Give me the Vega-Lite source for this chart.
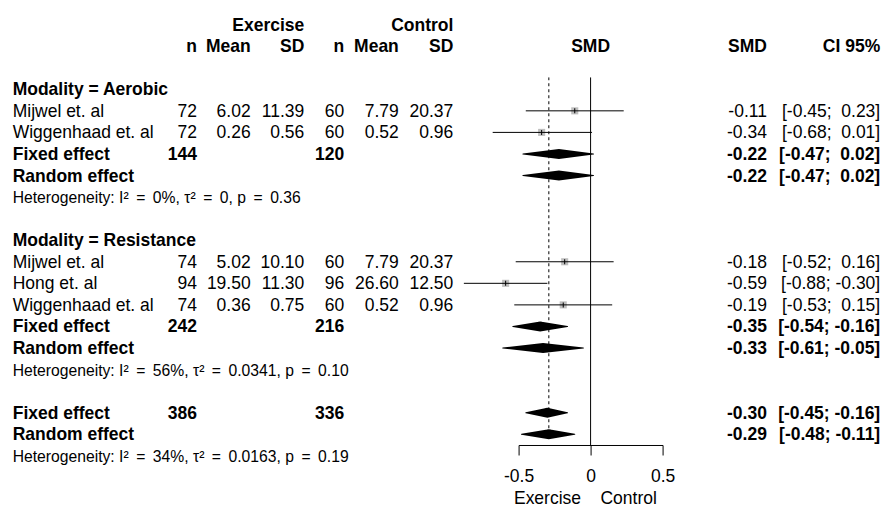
{
  "$schema": "https://vega.github.io/schema/vega-lite/v6.json",
  "padding": {"left": 12.7, "top": 0, "right": 0, "bottom": 0},
  "spacing": 39.3,
  "bounds": "flush",
  "config": {
    "view": {"stroke": null},
    "font": "Liberation Sans",
    "locale": {"number": {"decimal": ".", "thousands": ",", "grouping": [3], "currency": ["$", ""], "minus": "-"}},
    "text": {"font": "Liberation Sans", "fontSize": 17.5, "color": "black", "baseline": "middle", "dy": 1}
  },
  "datasets": {
    "rows": [
      {"row": 3, "kind": "group", "label": "Modality = Aerobic"},
      {"row": 4, "kind": "study", "label": "Mijwel et. al", "e_n": 72, "e_mean": 6.02, "e_sd": 11.39, "c_n": 60, "c_mean": 7.79, "c_sd": 20.37, "smd": -0.11, "lo": -0.45, "hi": 0.23, "ci": "[-0.45;\u00a0\u00a00.23]"},
      {"row": 5, "kind": "study", "label": "Wiggenhaad et. al", "e_n": 72, "e_mean": 0.26, "e_sd": 0.56, "c_n": 60, "c_mean": 0.52, "c_sd": 0.96, "smd": -0.34, "lo": -0.68, "hi": 0.01, "ci": "[-0.68;\u00a0\u00a00.01]"},
      {"row": 6, "kind": "fixed", "label": "Fixed effect", "e_n": 144, "c_n": 120, "smd": -0.22, "lo": -0.47, "hi": 0.02, "ci": "[-0.47;\u00a0\u00a00.02]"},
      {"row": 7, "kind": "random", "label": "Random effect", "smd": -0.22, "lo": -0.47, "hi": 0.02, "ci": "[-0.47;\u00a0\u00a00.02]"},
      {"row": 8, "kind": "het", "label": "Heterogeneity: I\u00b2\u00a0\u2009=\u2009\u00a00%, \u03c4\u00b2\u00a0\u2009=\u2009\u00a00, p\u00a0\u2009=\u2009\u00a00.36"},
      {"row": 10, "kind": "group", "label": "Modality = Resistance"},
      {"row": 11, "kind": "study", "label": "Mijwel et. al", "e_n": 74, "e_mean": 5.02, "e_sd": 10.10, "c_n": 60, "c_mean": 7.79, "c_sd": 20.37, "smd": -0.18, "lo": -0.52, "hi": 0.16, "ci": "[-0.52;\u00a0\u00a00.16]"},
      {"row": 12, "kind": "study", "label": "Hong et. al", "e_n": 94, "e_mean": 19.50, "e_sd": 11.30, "c_n": 96, "c_mean": 26.60, "c_sd": 12.50, "smd": -0.59, "lo": -0.88, "hi": -0.30, "ci": "[-0.88; -0.30]"},
      {"row": 13, "kind": "study", "label": "Wiggenhaad et. al", "e_n": 74, "e_mean": 0.36, "e_sd": 0.75, "c_n": 60, "c_mean": 0.52, "c_sd": 0.96, "smd": -0.19, "lo": -0.53, "hi": 0.15, "ci": "[-0.53;\u00a0\u00a00.15]"},
      {"row": 14, "kind": "fixed", "label": "Fixed effect", "e_n": 242, "c_n": 216, "smd": -0.35, "lo": -0.54, "hi": -0.16, "ci": "[-0.54; -0.16]"},
      {"row": 15, "kind": "random", "label": "Random effect", "smd": -0.33, "lo": -0.61, "hi": -0.05, "ci": "[-0.61; -0.05]"},
      {"row": 16, "kind": "het", "label": "Heterogeneity: I\u00b2\u00a0\u2009=\u2009\u00a056%, \u03c4\u00b2\u00a0\u2009=\u2009\u00a00.0341, p\u00a0\u2009=\u2009\u00a00.10"},
      {"row": 18, "kind": "fixed", "label": "Fixed effect", "e_n": 386, "c_n": 336, "smd": -0.30, "lo": -0.45, "hi": -0.16, "ci": "[-0.45; -0.16]"},
      {"row": 19, "kind": "random", "label": "Random effect", "smd": -0.29, "lo": -0.48, "hi": -0.11, "ci": "[-0.48; -0.11]"},
      {"row": 20, "kind": "het", "label": "Heterogeneity: I\u00b2\u00a0\u2009=\u2009\u00a034%, \u03c4\u00b2\u00a0\u2009=\u2009\u00a00.0163, p\u00a0\u2009=\u2009\u00a00.19"}
    ],
    "headers": [
      {"panel": "ex", "col": "e_sd", "row": 0, "text": "Exercise"},
      {"panel": "ex", "col": "e_n", "row": 1, "text": "n"},
      {"panel": "ex", "col": "e_mean", "row": 1, "text": "Mean"},
      {"panel": "ex", "col": "e_sd", "row": 1, "text": "SD"},
      {"panel": "ct", "col": "c_sd", "row": 0, "text": "Control"},
      {"panel": "ct", "col": "c_n", "row": 1, "text": "n"},
      {"panel": "ct", "col": "c_mean", "row": 1, "text": "Mean"},
      {"panel": "ct", "col": "c_sd", "row": 1, "text": "SD"},
      {"panel": "forest", "col": "smd", "row": 1, "text": "SMD"},
      {"panel": "right", "col": "smd", "row": 1, "text": "SMD"},
      {"panel": "right", "col": "ci", "row": 1, "text": "CI 95%"}
    ]
  },
  "resolve": {"scale": {"x": "independent", "y": "independent"}},
  "hconcat": [
    {
      "width": 145, "height": 445,
      "data": {"name": "rows"},
      "encoding": {
        "x": {"datum": 0, "type": "quantitative", "scale": {"domain": [0, 1]}, "axis": null},
        "y": {"field": "row", "type": "quantitative", "scale": {"domain": [-1.141, 19.499], "reverse": true, "nice": false, "zero": false}, "axis": null},
        "text": {"field": "label", "type": "nominal"}
      },
      "layer": [
        {"transform": [{"filter": "datum.kind === 'study'"}], "mark": {"type": "text", "align": "left"}},
        {"transform": [{"filter": "datum.kind === 'group' || datum.kind === 'fixed' || datum.kind === 'random'"}], "mark": {"type": "text", "align": "left", "fontWeight": "bold"}},
        {"transform": [{"filter": "datum.kind === 'het'"}], "mark": {"type": "text", "align": "left", "fontSize": 15.7}}
      ]
    },
    {
      "width": 107.3, "height": 445,
      "encoding": {
        "x": {"field": "col", "type": "nominal", "scale": {"type": "point", "domain": ["e_n", "e_mean", "e_sd"], "padding": 0}, "axis": null},
        "y": {"field": "row", "type": "quantitative", "scale": {"domain": [-1.141, 19.499], "reverse": true, "nice": false, "zero": false}, "axis": null}
      },
      "layer": [
        {"data": {"name": "rows"}, "transform": [{"filter": "datum.kind === 'study'"}, {"fold": ["e_n"], "as": ["col", "val"]}],
         "mark": {"type": "text", "align": "right"}, "encoding": {"text": {"field": "val", "type": "quantitative", "format": "d"}}},
        {"data": {"name": "rows"}, "transform": [{"filter": "datum.kind === 'study'"}, {"fold": ["e_mean", "e_sd"], "as": ["col", "val"]}],
         "mark": {"type": "text", "align": "right"}, "encoding": {"text": {"field": "val", "type": "quantitative", "format": ".2f"}}},
        {"data": {"name": "rows"}, "transform": [{"filter": "datum.kind === 'fixed'"}, {"fold": ["e_n"], "as": ["col", "val"]}],
         "mark": {"type": "text", "align": "right", "fontWeight": "bold"}, "encoding": {"text": {"field": "val", "type": "quantitative", "format": "d"}}},
        {"data": {"name": "headers"}, "transform": [{"filter": "datum.panel === 'ex'"}],
         "mark": {"type": "text", "align": "right", "fontWeight": "bold"}, "encoding": {"text": {"field": "text", "type": "nominal"}}}
      ]
    },
    {
      "width": 134.1, "height": 445,
      "encoding": {
        "x": {"field": "col", "type": "nominal", "scale": {"type": "point", "domain": ["c_n", "c_mean", "c_sd"], "padding": 0.23, "align": 0}, "axis": null},
        "y": {"field": "row", "type": "quantitative", "scale": {"domain": [-1.141, 19.499], "reverse": true, "nice": false, "zero": false}, "axis": null}
      },
      "layer": [
        {"data": {"name": "rows"}, "transform": [{"filter": "datum.kind === 'study'"}, {"fold": ["c_n"], "as": ["col", "val"]}],
         "mark": {"type": "text", "align": "right"}, "encoding": {"text": {"field": "val", "type": "quantitative", "format": "d"}}},
        {"data": {"name": "rows"}, "transform": [{"filter": "datum.kind === 'study'"}, {"fold": ["c_mean", "c_sd"], "as": ["col", "val"]}],
         "mark": {"type": "text", "align": "right"}, "encoding": {"text": {"field": "val", "type": "quantitative", "format": ".2f"}}},
        {"data": {"name": "rows"}, "transform": [{"filter": "datum.kind === 'fixed'"}, {"fold": ["c_n"], "as": ["col", "val"]}],
         "mark": {"type": "text", "align": "right", "fontWeight": "bold"}, "encoding": {"text": {"field": "val", "type": "quantitative", "format": "d"}}},
        {"data": {"name": "headers"}, "transform": [{"filter": "datum.panel === 'ct'"}],
         "mark": {"type": "text", "align": "right", "fontWeight": "bold"}, "encoding": {"text": {"field": "text", "type": "nominal"}}}
      ]
    },
    {
      "width": 144, "height": 445,
      "layer": [
        {"data": {"values": [{"effect": 0}]},
         "mark": {"type": "rule", "color": "black", "strokeWidth": 1},
         "encoding": {
           "x": {"field": "effect", "type": "quantitative", "scale": {"domain": [-0.5, 0.5], "nice": false, "zero": false},
                 "axis": {"values": [-0.5, 0, 0.5], "format": "~g", "domain": true, "domainColor": "black", "domainWidth": 1, "ticks": true, "tickColor": "black", "tickSize": 10, "tickWidth": 1, "grid": false, "labelFont": "Liberation Sans", "labelFontSize": 17.5, "labelColor": "black", "labelPadding": 13, "labelFlush": false, "labelOverlap": false, "title": "Exercise\u00a0\u00a0\u00a0\u00a0Control", "titleFont": "Liberation Sans", "titleFontSize": 17.5, "titleFontWeight": "normal", "titleColor": "black", "titlePadding": 4, "titleX": 66.3}},
           "y": {"datum": 2.45, "type": "quantitative", "scale": {"domain": [-1.141, 19.499], "reverse": true, "nice": false, "zero": false}, "axis": null},
           "y2": {"datum": 19.499}
         }},
        {"data": {"name": "rows"}, "transform": [{"filter": "datum.row === 19"}],
         "mark": {"type": "rule", "color": "black", "strokeWidth": 1, "strokeDash": [3, 3]},
         "encoding": {
           "x": {"field": "smd", "type": "quantitative", "scale": {"domain": [-0.5, 0.5], "nice": false, "zero": false},
                 "axis": {"values": [-0.5, 0, 0.5], "format": "~g", "domain": true, "domainColor": "black", "domainWidth": 1, "ticks": true, "tickColor": "black", "tickSize": 10, "tickWidth": 1, "grid": false, "labelFont": "Liberation Sans", "labelFontSize": 17.5, "labelColor": "black", "labelPadding": 13, "labelFlush": false, "labelOverlap": false, "title": "Exercise\u00a0\u00a0\u00a0\u00a0Control", "titleFont": "Liberation Sans", "titleFontSize": 17.5, "titleFontWeight": "normal", "titleColor": "black", "titlePadding": 4, "titleX": 66.3}},
           "y": {"field": "row", "type": "quantitative", "scale": {"domain": [-1.141, 19.499], "reverse": true, "nice": false, "zero": false}, "axis": null},
           "y2": {"datum": 2.45}
         }},
        {"data": {"name": "rows"}, "transform": [{"filter": "datum.kind === 'study'"}],
         "mark": {"type": "square", "filled": true, "color": "#BEBEBE", "size": 50, "opacity": 1},
         "encoding": {
           "x": {"field": "smd", "type": "quantitative", "scale": {"domain": [-0.5, 0.5], "nice": false, "zero": false},
                 "axis": {"values": [-0.5, 0, 0.5], "format": "~g", "domain": true, "domainColor": "black", "domainWidth": 1, "ticks": true, "tickColor": "black", "tickSize": 10, "tickWidth": 1, "grid": false, "labelFont": "Liberation Sans", "labelFontSize": 17.5, "labelColor": "black", "labelPadding": 13, "labelFlush": false, "labelOverlap": false, "title": "Exercise\u00a0\u00a0\u00a0\u00a0Control", "titleFont": "Liberation Sans", "titleFontSize": 17.5, "titleFontWeight": "normal", "titleColor": "black", "titlePadding": 4, "titleX": 66.3}},
           "y": {"field": "row", "type": "quantitative", "scale": {"domain": [-1.141, 19.499], "reverse": true, "nice": false, "zero": false}, "axis": null}
         }},
        {"data": {"name": "rows"}, "transform": [{"filter": "datum.kind === 'study'"}],
         "mark": {"type": "rule", "color": "black", "strokeWidth": 1},
         "encoding": {
           "x": {"field": "lo", "type": "quantitative", "scale": {"domain": [-0.5, 0.5], "nice": false, "zero": false},
                 "axis": {"values": [-0.5, 0, 0.5], "format": "~g", "domain": true, "domainColor": "black", "domainWidth": 1, "ticks": true, "tickColor": "black", "tickSize": 10, "tickWidth": 1, "grid": false, "labelFont": "Liberation Sans", "labelFontSize": 17.5, "labelColor": "black", "labelPadding": 13, "labelFlush": false, "labelOverlap": false, "title": "Exercise\u00a0\u00a0\u00a0\u00a0Control", "titleFont": "Liberation Sans", "titleFontSize": 17.5, "titleFontWeight": "normal", "titleColor": "black", "titlePadding": 4, "titleX": 66.3}},
           "x2": {"field": "hi"},
           "y": {"field": "row", "type": "quantitative", "scale": {"domain": [-1.141, 19.499], "reverse": true, "nice": false, "zero": false}, "axis": null}
         }},
        {"data": {"name": "rows"}, "transform": [{"filter": "datum.kind === 'study'"}],
         "mark": {"type": "tick", "orient": "vertical", "color": "black", "size": 5, "thickness": 1, "opacity": 1},
         "encoding": {
           "x": {"field": "smd", "type": "quantitative", "scale": {"domain": [-0.5, 0.5], "nice": false, "zero": false},
                 "axis": {"values": [-0.5, 0, 0.5], "format": "~g", "domain": true, "domainColor": "black", "domainWidth": 1, "ticks": true, "tickColor": "black", "tickSize": 10, "tickWidth": 1, "grid": false, "labelFont": "Liberation Sans", "labelFontSize": 17.5, "labelColor": "black", "labelPadding": 13, "labelFlush": false, "labelOverlap": false, "title": "Exercise\u00a0\u00a0\u00a0\u00a0Control", "titleFont": "Liberation Sans", "titleFontSize": 17.5, "titleFontWeight": "normal", "titleColor": "black", "titlePadding": 4, "titleX": 66.3}},
           "y": {"field": "row", "type": "quantitative", "scale": {"domain": [-1.141, 19.499], "reverse": true, "nice": false, "zero": false}, "axis": null}
         }},
        {"data": {"name": "rows"}, "transform": [{"filter": "datum.kind === 'fixed' || datum.kind === 'random'"}, {"fold": ["lo", "smd", "hi"], "as": ["pt", "xv"]}],
         "mark": {"type": "trail", "color": "black", "opacity": 1},
         "encoding": {
           "x": {"field": "xv", "type": "quantitative", "scale": {"domain": [-0.5, 0.5], "nice": false, "zero": false},
                 "axis": {"values": [-0.5, 0, 0.5], "format": "~g", "domain": true, "domainColor": "black", "domainWidth": 1, "ticks": true, "tickColor": "black", "tickSize": 10, "tickWidth": 1, "grid": false, "labelFont": "Liberation Sans", "labelFontSize": 17.5, "labelColor": "black", "labelPadding": 13, "labelFlush": false, "labelOverlap": false, "title": "Exercise\u00a0\u00a0\u00a0\u00a0Control", "titleFont": "Liberation Sans", "titleFontSize": 17.5, "titleFontWeight": "normal", "titleColor": "black", "titlePadding": 4, "titleX": 66.3}},
           "y": {"field": "row", "type": "quantitative", "scale": {"domain": [-1.141, 19.499], "reverse": true, "nice": false, "zero": false}, "axis": null},
           "size": {"field": "pt", "type": "ordinal", "scale": {"type": "ordinal", "domain": ["lo", "smd", "hi"], "range": [0, 10, 0]}, "legend": null},
           "detail": {"field": "row", "type": "nominal"},
           "order": {"field": "xv", "type": "quantitative"}
         }},
        {"data": {"name": "headers"}, "transform": [{"filter": "datum.panel === 'forest'"}],
         "mark": {"type": "text", "align": "center", "fontWeight": "bold"},
         "encoding": {
           "x": {"datum": 0, "type": "quantitative", "scale": {"domain": [-0.5, 0.5], "nice": false, "zero": false},
                 "axis": {"values": [-0.5, 0, 0.5], "format": "~g", "domain": true, "domainColor": "black", "domainWidth": 1, "ticks": true, "tickColor": "black", "tickSize": 10, "tickWidth": 1, "grid": false, "labelFont": "Liberation Sans", "labelFontSize": 17.5, "labelColor": "black", "labelPadding": 13, "labelFlush": false, "labelOverlap": false, "title": "Exercise\u00a0\u00a0\u00a0\u00a0Control", "titleFont": "Liberation Sans", "titleFontSize": 17.5, "titleFontWeight": "normal", "titleColor": "black", "titlePadding": 4, "titleX": 66.3}},
           "y": {"field": "row", "type": "quantitative", "scale": {"domain": [-1.141, 19.499], "reverse": true, "nice": false, "zero": false}, "axis": null},
           "text": {"field": "text", "type": "nominal"}
         }}
      ]
    },
    {
      "width": 178.3, "height": 445,
      "encoding": {
        "x": {"field": "col", "type": "nominal", "scale": {"type": "point", "domain": ["smd", "ci"], "padding": 0.2869, "align": 1}, "axis": null},
        "y": {"field": "row", "type": "quantitative", "scale": {"domain": [-1.141, 19.499], "reverse": true, "nice": false, "zero": false}, "axis": null}
      },
      "layer": [
        {"data": {"name": "rows"}, "transform": [{"filter": "datum.kind === 'study'"}, {"fold": ["smd"], "as": ["col", "val"]}],
         "mark": {"type": "text", "align": "right"}, "encoding": {"text": {"field": "val", "type": "quantitative", "format": ".2f"}}},
        {"data": {"name": "rows"}, "transform": [{"filter": "datum.kind === 'study'"}, {"fold": ["ci"], "as": ["col", "val"]}],
         "mark": {"type": "text", "align": "right"}, "encoding": {"text": {"field": "val", "type": "nominal"}}},
        {"data": {"name": "rows"}, "transform": [{"filter": "datum.kind === 'fixed' || datum.kind === 'random'"}, {"fold": ["smd"], "as": ["col", "val"]}],
         "mark": {"type": "text", "align": "right", "fontWeight": "bold"}, "encoding": {"text": {"field": "val", "type": "quantitative", "format": ".2f"}}},
        {"data": {"name": "rows"}, "transform": [{"filter": "datum.kind === 'fixed' || datum.kind === 'random'"}, {"fold": ["ci"], "as": ["col", "val"]}],
         "mark": {"type": "text", "align": "right", "fontWeight": "bold"}, "encoding": {"text": {"field": "val", "type": "nominal"}}},
        {"data": {"name": "headers"}, "transform": [{"filter": "datum.panel === 'right'"}],
         "mark": {"type": "text", "align": "right", "fontWeight": "bold"}, "encoding": {"text": {"field": "text", "type": "nominal"}}}
      ]
    }
  ]
}
